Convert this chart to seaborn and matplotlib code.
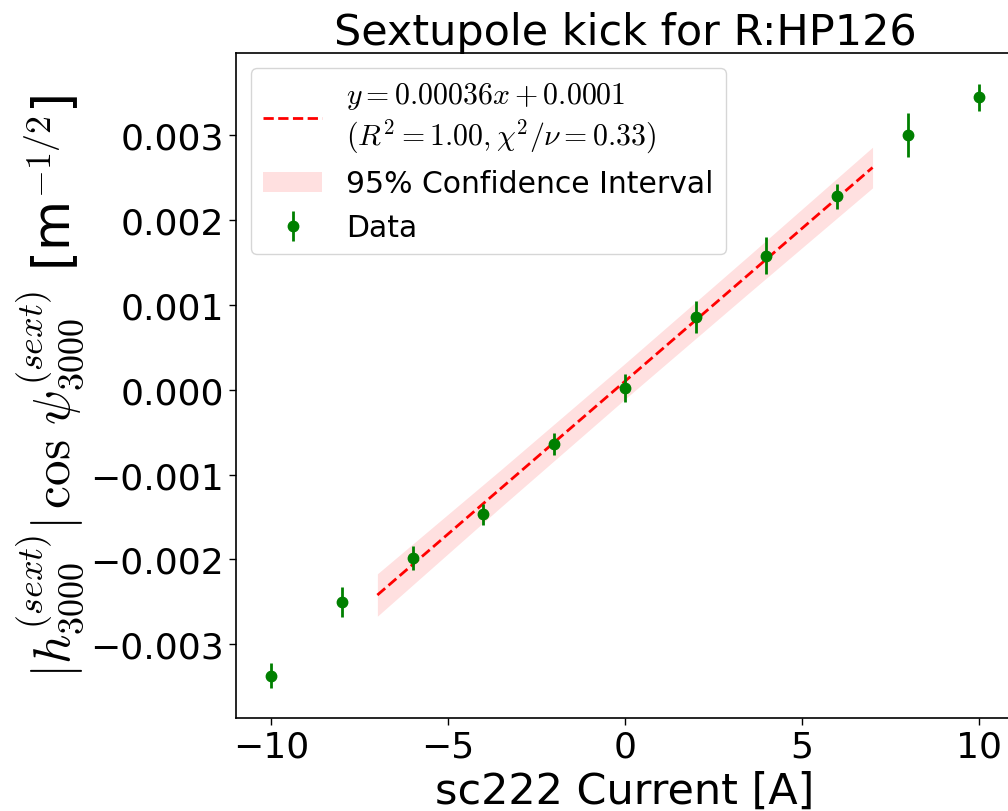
import numpy as np
import pandas as pd
import matplotlib
matplotlib.use("Agg")
import matplotlib.pyplot as plt
import seaborn as sns

# data
current = [-10, -8, -6, -4, -2, 0, 2, 4, 6, 8, 10]
kick = [-0.00337, -0.00250, -0.00198, -0.00147, -0.00064, 0.00002,
        0.00086, 0.00158, 0.00228, 0.00300, 0.00345]
kick_err = [0.00015, 0.00018, 0.00014, 0.00012, 0.00013, 0.00016,
            0.00019, 0.00022, 0.00015, 0.00026, 0.00016]

# fit result (from legend) and band
slope = 0.00036
intercept = 0.0001
fit_x = [-7, 7]
ci_x = [-7, -3.5, 0, 3.5, 7]
ci_half = [0.00025, 0.00022, 0.00021, 0.00022, 0.00024]

sns.set_style("ticks")
plt.rcParams["mathtext.fontset"] = "cm"
plt.rcParams["font.family"] = ["DejaVu Sans"]
for k in ["text.color", "axes.labelcolor", "xtick.color", "ytick.color"]:
    plt.rcParams[k] = "black"

fig = plt.figure(figsize=(10.08, 8.12), dpi=100)
ax = fig.add_axes([0.234, 0.1145, 0.772, 0.819])

fit_df = pd.DataFrame({"x": fit_x, "y": [slope * v + intercept for v in fit_x]})
ci_center = np.array([slope * v + intercept for v in ci_x])

sns.lineplot(data=fit_df, x="x", y="y", ax=ax, color="red", linestyle="--", linewidth=2,
             label="$y = 0.00036x + 0.0001$\n$(R^2 = 1.00, \\chi^2/\\nu = 0.33)$")
ax.fill_between(ci_x, ci_center - np.array(ci_half), ci_center + np.array(ci_half),
                color="red", alpha=0.12, linewidth=0, label="95% Confidence Interval")
ax.errorbar(current, kick, yerr=kick_err, fmt="o", color="green", markersize=7.5,
            elinewidth=2, capsize=0, label="Data")

ax.set_xlim(-11, 11)
ax.set_ylim(-0.00387, 0.00397)
ax.set_yticks([-0.003, -0.002, -0.001, 0.0, 0.001, 0.002, 0.003])
ax.set_xticks([-10, -5, 0, 5, 10])
ax.tick_params(labelsize=26, length=5, width=1)
for s in ax.spines.values():
    s.set_color("black")
    s.set_linewidth(1.2)

ax.set_title("Sextupole kick for R:HP126", fontsize=31)
ax.set_xlabel("sc222 Current [A]", fontsize=31)
ax.set_ylabel(r"$|h^{(sext)}_{3000}|\,\cos\,\psi^{(sext)}_{3000}$ [m$^{-1/2}$]", fontsize=37)

ax.legend(loc="upper left", fontsize=21.5, frameon=True)

fig.savefig("out.png", dpi=100)
